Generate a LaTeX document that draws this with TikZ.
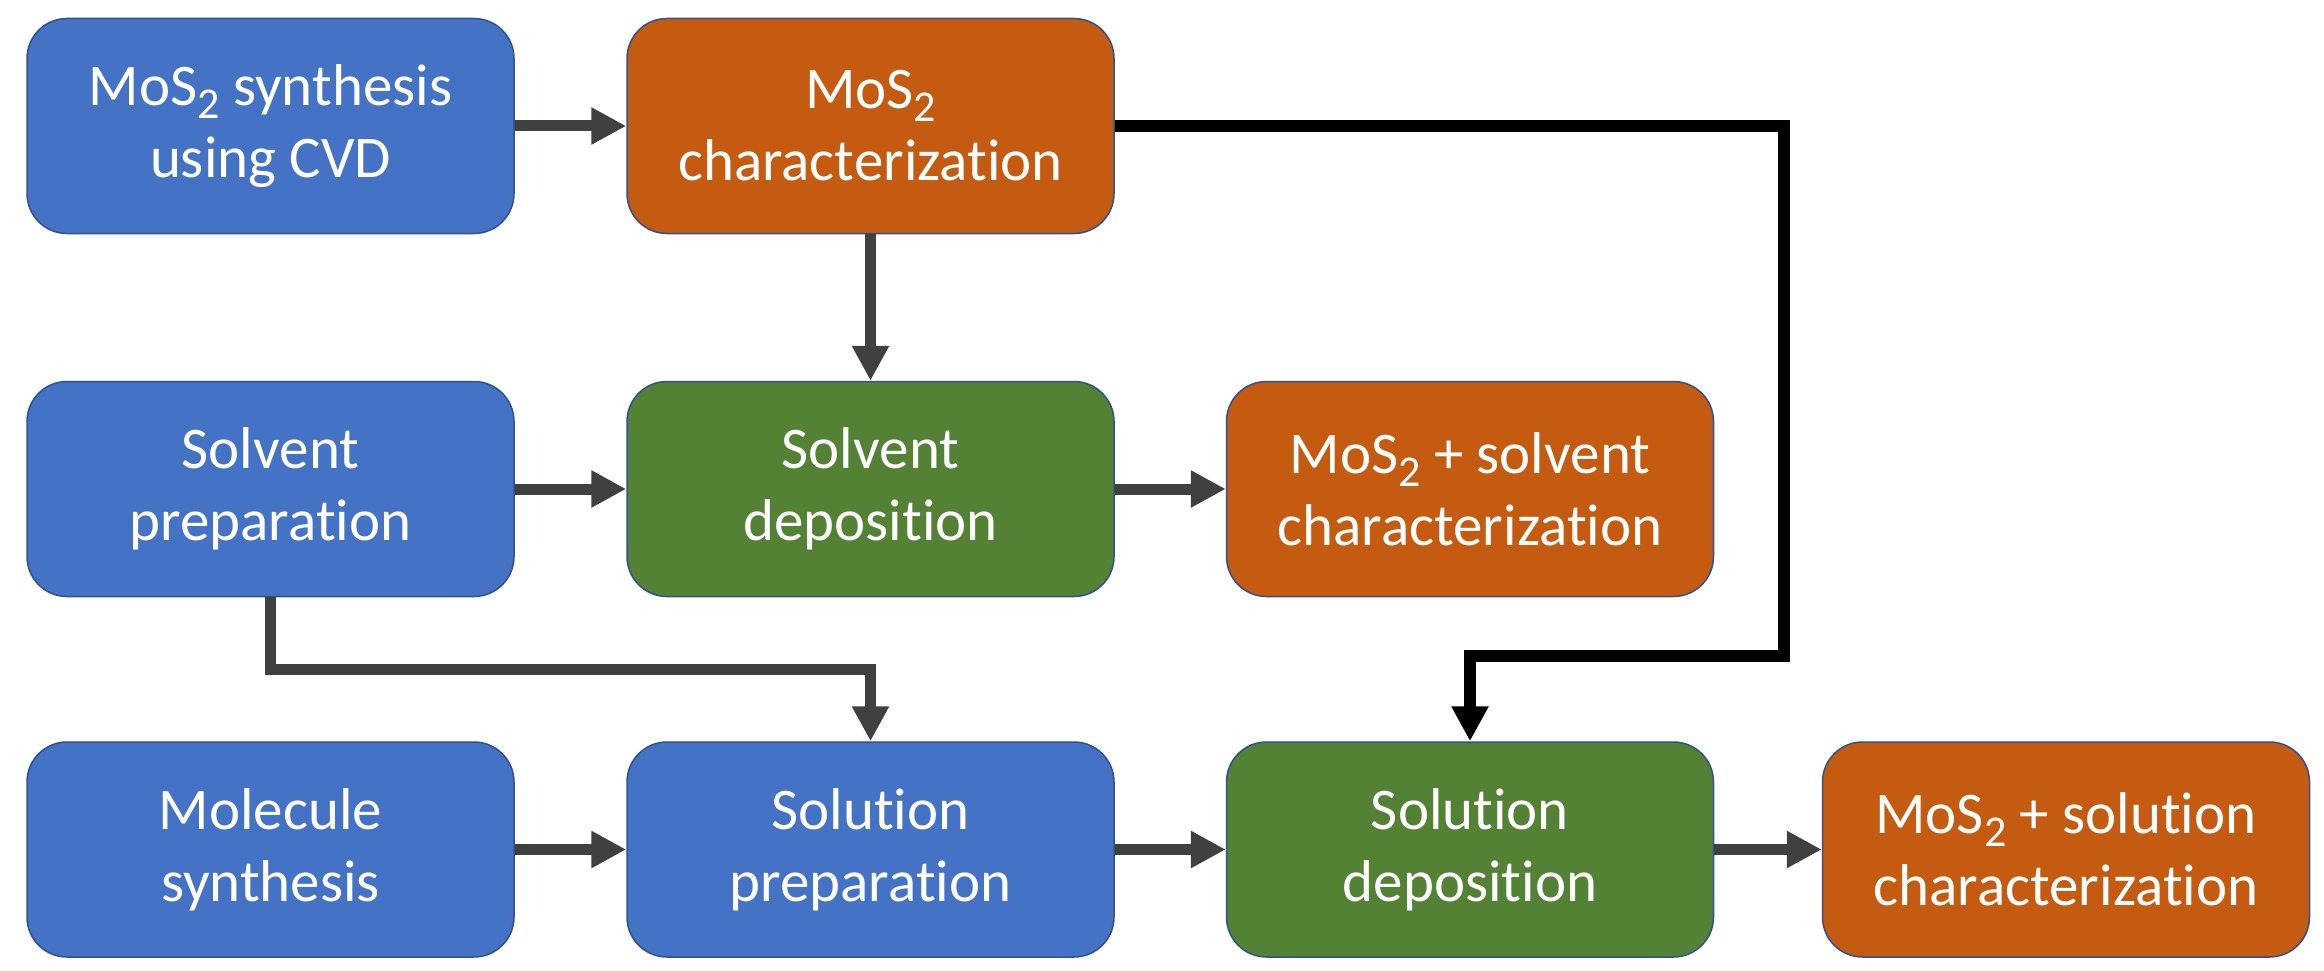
\documentclass[tikz,border=0pt]{standalone}
\usepackage{fontspec}
\setmainfont{Carlito}[Ligatures=NoCommon]
\usetikzlibrary{arrows.meta}
\definecolor{bfill}{HTML}{4472C4}
\definecolor{ofill}{HTML}{C55A11}
\definecolor{gfill}{HTML}{548235}
\definecolor{bline}{HTML}{2F528F}
\definecolor{agray}{HTML}{404040}
\newcommand\mysub[1]{\raisebox{-13pt}{\fontsize{44}{44}\selectfont #1}}
\begin{document}
\begin{tikzpicture}[x=1pt,y=-1pt,
  box/.style={draw=bline,line width=1.5pt,rounded corners=40pt,minimum width=487pt,minimum height=215pt,inner sep=0pt,align=center,text=white,font=\fontsize{59}{72}\selectfont},
  bluebox/.style={box,fill=bfill},
  orangebox/.style={box,fill=ofill},
  greenbox/.style={box,fill=gfill},
  garrow/.style={draw=agray,line width=11pt,-{Triangle[length=35pt,width=35pt]}},
  karrow/.style={draw=black,line width=12pt,-{Triangle[length=35pt,width=35pt]}}]
\useasboundingbox (0,0) rectangle (2324,971);
\node[bluebox] (b1) at (270.5,126) {MoS\mysub{2} synthesis\\using CVD};
\node[orangebox] (b2) at (870.5,126) {MoS\mysub{2}\\characterization};
\node[bluebox] (b3) at (270.5,489) {Solvent\\preparation};
\node[greenbox] (b4) at (870.5,489) {Solvent\\deposition};
\node[orangebox] (b5) at (1470,489) {MoS\mysub{2} + solvent\\characterization};
\node[bluebox] (b6) at (270.5,849.5) {Molecule\\synthesis};
\node[bluebox] (b7) at (870.5,849.5) {Solution\\preparation};
\node[greenbox] (b8) at (1470,849.5) {Solution\\deposition};
\node[orangebox] (b9) at (2066,849.5) {MoS\mysub{2} + solution\\characterization};
\coordinate (j1) at (570,669);
\coordinate (j2) at (1784,656);
\draw[garrow] (b1) -- (b2);
\draw[garrow] (b2) -- (b4);
\draw[garrow] (b3) -- (b4);
\draw[garrow] (b4) -- (b5);
\draw[garrow] (b6) -- (b7);
\draw[garrow] (b7) -- (b8);
\draw[garrow] (b8) -- (b9);
\draw[garrow] (b3.south) |- (j1) -| (b7.north);
\draw[karrow] (b2.east) -| (j2) -| (b8.north);
\end{tikzpicture}
\end{document}
